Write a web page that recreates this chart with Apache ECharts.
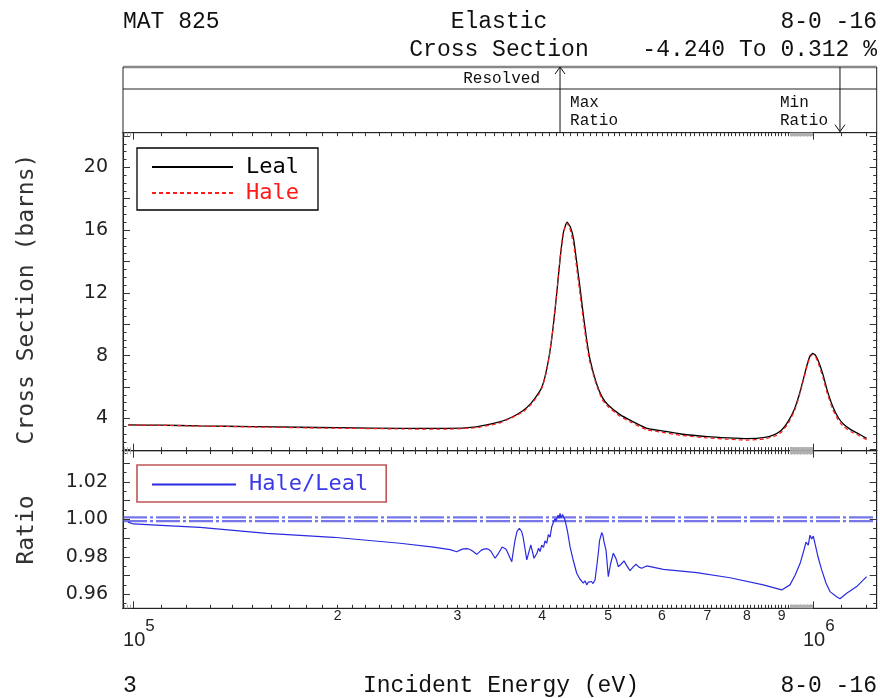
<!DOCTYPE html>
<html><head><meta charset="utf-8">
<script src="https://cdn.jsdelivr.net/npm/echarts@6/dist/echarts.min.js"></script>
<style>html,body{margin:0;padding:0;background:#fff}#c{width:880px;height:698px}</style>
</head><body><div id="c"></div>
<script>
// ---------- data ----------
const energyXS = [98400,110000,125000,150000,175000,200000,250000,290000,320000,345000,360000,375000,385000,395000,400000,405000,410000,415000,420000,425000,430000,435000,440000,445000,450000,455000,460000,465000,470000,480000,490000,500000,520000,540000,570000,600000,640000,700000,750000,800000,850000,880000,900000,920000,940000,955000,970000,980000,990000,1000000,1010000,1020000,1035000,1050000,1070000,1090000,1110000,1140000,1170000,1200000];
const lealXS = [3.58,3.56,3.52,3.47,3.43,3.40,3.36,3.36,3.46,3.75,4.05,4.50,4.95,5.60,6.05,6.90,8.10,9.80,11.9,14.2,15.9,16.5,16.2,15.4,13.8,12.2,10.5,9.0,7.8,6.3,5.35,4.85,4.25,3.85,3.36,3.20,3.00,2.83,2.75,2.70,2.78,2.98,3.25,3.80,4.60,5.50,6.60,7.35,7.95,8.14,8.00,7.60,6.80,5.80,4.75,4.05,3.62,3.25,3.00,2.72];
const haleXS = [3.575,3.553,3.506,3.449,3.403,3.369,3.320,3.312,3.405,3.68,4.02,4.41,4.88,5.51,5.97,6.83,8.06,9.78,11.9,14.24,15.9,16.45,16.0,15.05,13.4,11.8,10.15,8.7,7.58,6.2,5.2,4.74,4.14,3.75,3.27,3.11,2.915,2.745,2.664,2.613,2.683,2.869,3.13,3.67,4.48,5.41,6.52,7.27,7.88,8.07,7.90,7.44,6.60,5.60,4.57,3.885,3.468,3.123,2.89,2.635];

const energyRatio = [98390,100170,109980,125540,157350,197180,247130,276660,287850,292760,299480,303880,306500,309800,312600,315410,320480,325180,328300,331520,334000,336380,340980,344460,349160,353920,360820,363020,364880,367280,370230,373010,374900,377440,379620,384800,389050,393020,395020,397030,399320,401770,403820,406150,408350,410710,413080,415320,417710,419130,421980,423410,424850,426290,428460,432100,435770,439470,444400,449550,454610,459710,462380,465030,467570,470250,472650,475050,478290,481540,484320,485630,489270,491430,493090,496440,500320,504070,508870,513550,517560,522310,527650,533040,538480,543980,549540,555150,560240,569820,602780,675150,755390,845780,900000,925660,941470,958150,971200,977240,984890,990570,996280,1001700,1007490,1017770,1030590,1045710,1059970,1084290,1096480,1121630,1160300,1200180];
const ratioHaleLeal = [0.9985,0.9975,0.9968,0.9957,0.9925,0.9904,0.9872,0.9851,0.9842,0.9838,0.9827,0.9838,0.9842,0.9843,0.9840,0.9832,0.9813,0.9834,0.9841,0.9843,0.9838,0.9828,0.9792,0.9815,0.9852,0.9840,0.9774,0.9840,0.9890,0.9935,0.9952,0.9935,0.9905,0.9840,0.9783,0.9863,0.9792,0.9820,0.9846,0.9828,0.9862,0.9850,0.9885,0.9872,0.9918,0.9905,0.9960,0.9950,1.0005,0.9990,1.0022,1.0005,1.0031,1.0008,1.0025,0.9996,0.9935,0.9854,0.9780,0.9712,0.9680,0.9659,0.9672,0.9650,0.9665,0.9655,0.9668,0.9657,0.9676,0.9760,0.9840,0.9885,0.9929,0.9912,0.9880,0.9836,0.9694,0.9760,0.9819,0.9790,0.9747,0.9760,0.9778,0.9750,0.9726,0.9745,0.9760,0.9745,0.9739,0.9751,0.9733,0.9715,0.9688,0.9650,0.9623,0.9650,0.9700,0.9765,0.9840,0.9878,0.9862,0.9915,0.9895,0.9910,0.9872,0.9800,0.9730,0.9660,0.9614,0.9587,0.9576,0.9605,0.9641,0.9694];

const bandLevels = [1.001, 0.999];
const maxRatioE = 424850, minRatioE = 1096480;

const xRange = [96700, 1241700];
const csRange = [1.935, 22.21];
const ratioRange = [0.9525, 1.0366];
const csLabels = [4, 8, 12, 16, 20];
const ratioLabels = [0.96, 0.98, 1.00, 1.02];
const xDigitLabels = [2, 3, 4, 5, 6, 7, 8, 9];   // x 10^5
const xDecadeLabels = [5, 6];

const headerLeft = 'MAT 825', headerMid1 = 'Elastic', headerMid2 = 'Cross Section';
const headerRight1 = '8-0 -16', headerRight2 = '-4.240 To 0.312 %';
const footLeft = '3', footMid = 'Incident Energy (eV)', footRight = '8-0 -16';
const yName1 = 'Cross Section (barns)', yName2 = 'Ratio';

// ---------- helpers ----------
const L = Math.log10;
const xmin = L(xRange[0]), xmax = L(xRange[1]);
const lineC = '#222', tickC = '#333';

function range(a, b, step) { const r = []; for (let v = a; v <= b + 1e-9; v += step) r.push(+v.toFixed(6)); return r; }
const xMinorTicks = [];
for (let k = 11; k < 100; k++) xMinorTicks.push(L(k * 1e4));
xMinorTicks.push(L(1.1e6), L(1.2e6));
const xFineTicks = [];
for (let k = 97; k < 100; k++) xFineTicks.push(L(k * 1000));
for (let k = 926; k < 1000; k += 2) xFineTicks.push(L(k * 1e3));
const xMajorTicks = xDecadeLabels.map(d => d);

function xAx(grid, pos, ticks, len, extra, color) {
  return Object.assign({
    type: 'value', gridIndex: grid, position: pos, min: xmin, max: xmax,
    axisLine: { show: true, onZero: false, lineStyle: { color: lineC, width: 1 } },
    axisTick: { show: true, inside: true, length: len, customValues: ticks, lineStyle: { color: color || tickC, width: 1 } },
    axisLabel: { show: false }, splitLine: { show: false }
  }, extra || {});
}
function yAx(grid, pos, rng, ticks, len, extra) {
  return Object.assign({
    type: 'value', gridIndex: grid, position: pos, min: rng[0], max: rng[1],
    axisLine: { show: true, onZero: false, lineStyle: { color: lineC, width: 1 } },
    axisTick: { show: true, inside: true, length: len, customValues: ticks, lineStyle: { color: tickC, width: 1 } },
    axisLabel: { show: false }, splitLine: { show: false }
  }, extra || {});
}
const yLabelStyle = { fontFamily: 'DejaVu Sans', fontSize: 19, color: '#222', margin: 15, padding: [0, 0, 11, 0] };

const csMajor = range(2, 22, 2), csMinor = range(2, 22, 0.5);
const rMajor = range(0.96, 1.03, 0.01), rMinor = range(0.955, 1.035, 0.005);

const xAxes = [
  xAx(0, 'bottom', xMinorTicks, 3.5),
  xAx(0, 'bottom', xMajorTicks, 7),
  xAx(0, 'top', xMinorTicks, 3.5),
  xAx(0, 'top', xMajorTicks, 7),
  xAx(1, 'bottom', xMinorTicks, 3.5, {
    axisLabel: { show: true, customValues: xDigitLabels.map(k => L(k * 1e5)), margin: 1,
      formatter: v => String(Math.round(Math.pow(10, v - 5))),
      fontFamily: 'Liberation Sans', fontSize: 14, color: '#222' }
  }),
  xAx(1, 'bottom', xMajorTicks, 7, {
    axisLabel: { show: true, customValues: xDecadeLabels, margin: 10,
      formatter: v => '{sp|}{b|10}{p|' + Math.round(v) + '}',
      rich: {
        sp: { width: 12, lineHeight: 32 },
        b: { fontFamily: 'Liberation Sans', fontSize: 20, lineHeight: 20, verticalAlign: 'bottom', color: '#222' },
        p: { fontFamily: 'Liberation Sans', fontSize: 17, lineHeight: 17, verticalAlign: 'top', color: '#222' }
      } }
  }),
  xAx(1, 'top', xMinorTicks, 3.5),
  xAx(1, 'top', xMajorTicks, 7),
  xAx(0, 'bottom', xFineTicks, 3.5, null, '#b0b0b0'),
  xAx(0, 'top', xFineTicks, 3.5, null, '#b0b0b0'),
  xAx(1, 'bottom', xFineTicks, 3.5, null, '#b0b0b0'),
  xAx(1, 'top', xFineTicks, 3.5, null, '#b0b0b0')
];
const yAxes = [
  yAx(0, 'left', csRange, csMajor, 7, { axisLabel: Object.assign({ show: true, customValues: csLabels, formatter: v => String(v) }, yLabelStyle) }),
  yAx(0, 'left', csRange, csMinor, 3.5),
  yAx(0, 'right', csRange, csMajor, 7),
  yAx(0, 'right', csRange, csMinor, 3.5),
  yAx(1, 'left', ratioRange, rMajor, 7, { axisLabel: Object.assign({ show: true, customValues: ratioLabels, formatter: v => v.toFixed(2) }, yLabelStyle) }),
  yAx(1, 'left', ratioRange, rMinor, 3.5),
  yAx(1, 'right', ratioRange, rMajor, 7),
  yAx(1, 'right', ratioRange, rMinor, 3.5)
];

const lealData = energyXS.map((e, i) => [L(e), lealXS[i]]);
const haleData = energyXS.map((e, i) => [L(e), haleXS[i]]);
const ratioData = energyRatio.map((e, i) => [L(e), ratioHaleLeal[i]]);

const mono = 'DejaVu Sans Mono';
const hiddenSymbol = { opacity: 0, color: 'rgba(0,0,0,0)', borderColor: 'rgba(0,0,0,0)', borderWidth: 0 };
const option = {
  animation: false,
  backgroundColor: '#fff',
  grid: [
    { left: 123, top: 132.7, width: 753.7, height: 318, show: true, borderColor: lineC, borderWidth: 1, outerBoundsMode: 'none' },
    { left: 123, top: 450.7, width: 753.7, height: 157.6, show: true, borderColor: lineC, borderWidth: 1, outerBoundsMode: 'none' }
  ],
  xAxis: xAxes,
  yAxis: yAxes,
  legend: [
    { data: [{ name: 'Leal', textStyle: { color: '#000' } }, { name: 'Hale', textStyle: { color: '#ff1a1a' } }],
      orient: 'vertical', left: 137, top: 148, selectedMode: false,
      itemWidth: 81, itemHeight: 14, itemGap: 4, padding: [8, 19, 6, 14],
      borderColor: '#000', borderWidth: 1.3, backgroundColor: '#fff', itemStyle: hiddenSymbol,
      textStyle: { fontFamily: mono, fontSize: 22, lineHeight: 16, padding: [0, 0, 0, 8] } },
    { data: [{ name: 'Hale/Leal', textStyle: { color: '#3a3ae8' } }],
      orient: 'vertical', left: 137, top: 465, selectedMode: false,
      itemWidth: 84, itemHeight: 14, padding: [8.5, 18, 6.5, 14],
      borderColor: '#c05555', borderWidth: 1.6, backgroundColor: '#fff', itemStyle: hiddenSymbol,
      textStyle: { fontFamily: mono, fontSize: 22, lineHeight: 16, padding: [0, 0, 0, 8] } }
  ],
  series: [
    { name: 'Leal', type: 'line', xAxisIndex: 0, yAxisIndex: 0, data: lealData, symbol: 'none', showSymbol: false, smooth: 0.15,
      lineStyle: { color: '#000', width: 1.3 }, itemStyle: { color: '#000' }, z: 3 },
    { name: 'Hale', type: 'line', xAxisIndex: 0, yAxisIndex: 0, data: haleData, symbol: 'none', showSymbol: false, smooth: 0.15,
      lineStyle: { color: '#ff1a1a', width: 1.2, type: [4, 3] }, itemStyle: { color: '#ff1a1a' }, z: 4 },
    ...bandLevels.map((lv, i) => ({
      name: 'band' + i, type: 'line', xAxisIndex: 4, yAxisIndex: 4, data: [[xmin, lv], [xmax, lv]], symbol: 'none',
      lineStyle: { color: 'rgba(60,60,225,0.7)', width: 2.4, type: [24, 3, 3, 3] }, silent: true, z: 2
    })),
    { name: 'Hale/Leal', type: 'line', xAxisIndex: 4, yAxisIndex: 4, data: ratioData, symbol: 'none', showSymbol: false,
      lineStyle: { color: '#2a2ae0', width: 1.2 }, itemStyle: { color: '#2a2ae0' }, z: 3 }
  ]
};

const chart = echarts.init(document.getElementById('c'), null, { renderer: 'canvas' });
chart.setOption(option);

const pxMax = chart.convertToPixel({ xAxisIndex: 0 }, L(maxRatioE));
const pxMin = chart.convertToPixel({ xAxisIndex: 0 }, L(minRatioE));
const hf = 'Liberation Mono';
function txt(text, x, y, size, align, font, color, rot) {
  return { type: 'text', x: x, y: y, rotation: rot || 0, silent: true,
    style: { text: text, fontFamily: font || hf, fontSize: size, fill: color || '#111', textAlign: align || 'left', textVerticalAlign: 'middle' } };
}
const boxTop = 67, boxMid = 89, boxBot = 132.7, boxL = 123, boxR = 876.7;
const graphic = [
  txt(headerLeft, 123, 22, 23, 'left'),
  txt(headerMid1, 499, 22, 23, 'center'),
  txt(headerRight1, 877, 22, 23, 'right'),
  txt(headerMid2, 499, 50, 23, 'center'),
  txt(headerRight2, 877, 50, 23, 'right'),
  txt(footLeft, 123, 686, 23, 'left'),
  txt(footMid, 501, 686, 23, 'center'),
  txt(footRight, 877, 686, 23, 'right'),
  txt(yName1, 27, 299, 23, 'center', mono, '#333', Math.PI / 2),
  txt(yName2, 27, 530, 23, 'center', mono, '#333', Math.PI / 2),
  { type: 'line', silent: true, shape: { x1: boxL, y1: boxTop, x2: boxR, y2: boxTop }, style: { stroke: '#888', lineWidth: 2.5 } },
  { type: 'line', silent: true, shape: { x1: boxL, y1: boxTop, x2: boxL, y2: boxBot }, style: { stroke: lineC, lineWidth: 1 } },
  { type: 'line', silent: true, shape: { x1: boxR, y1: boxTop, x2: boxR, y2: boxBot }, style: { stroke: lineC, lineWidth: 1 } },
  { type: 'line', silent: true, shape: { x1: boxL, y1: boxMid, x2: boxR, y2: boxMid }, style: { stroke: lineC, lineWidth: 1 } },
  // max ratio arrow (up)
  { type: 'line', silent: true, shape: { x1: pxMax, y1: boxBot, x2: pxMax, y2: boxTop }, style: { stroke: '#111', lineWidth: 1 } },
  { type: 'polyline', silent: true, shape: { points: [[pxMax - 5, boxTop + 7], [pxMax, boxTop], [pxMax + 5, boxTop + 7]] }, style: { stroke: '#111', lineWidth: 1, fill: null } },
  txt('Resolved', pxMax - 20, 79, 16, 'right'),
  txt('Max', pxMax + 10, 103, 16, 'left'),
  txt('Ratio', pxMax + 10, 121, 16, 'left'),
  // min ratio arrow (down)
  { type: 'line', silent: true, shape: { x1: pxMin, y1: boxTop, x2: pxMin, y2: boxBot - 1 }, style: { stroke: '#111', lineWidth: 1 } },
  { type: 'polyline', silent: true, shape: { points: [[pxMin - 5, boxBot - 8], [pxMin, boxBot - 1], [pxMin + 5, boxBot - 8]] }, style: { stroke: '#111', lineWidth: 1, fill: null } },
  txt('Min', pxMin - 60, 103, 16, 'left'),
  txt('Ratio', pxMin - 60, 121, 16, 'left')
];
chart.setOption({ graphic: graphic });
</script>
</body></html>
